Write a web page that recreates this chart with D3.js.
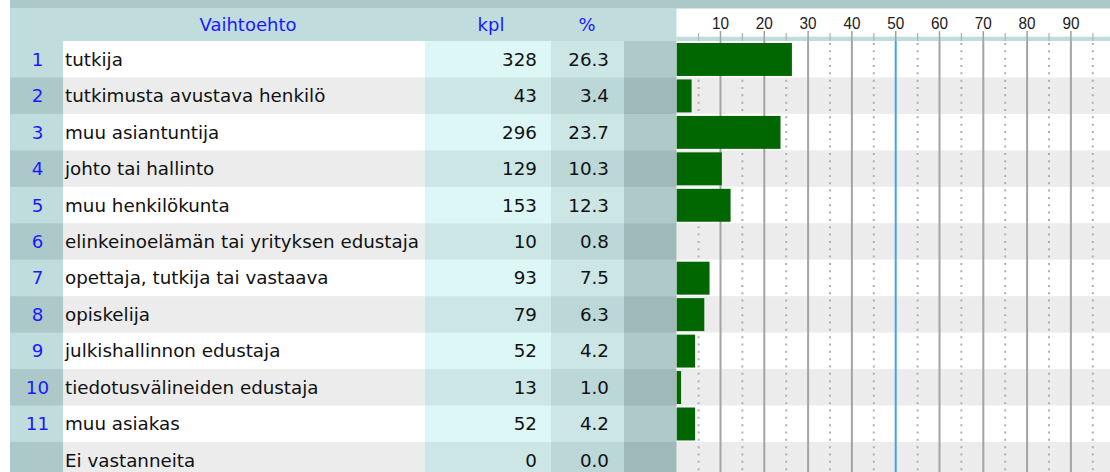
<!DOCTYPE html>
<html>
<head>
<meta charset="utf-8">
<script src="https://cdn.jsdelivr.net/npm/d3@7/dist/d3.min.js"></script>
<style>
  html, body { margin: 0; padding: 0; background: #ffffff; }
  svg { display: block; }
  text { font-family: "DejaVu Sans", Verdana, sans-serif; }
</style>
</head>
<body>
<svg id="chart" width="1110" height="472"></svg>
<script>
// ---- data ----
const rowNumbers = ["1","2","3","4","5","6","7","8","9","10","11",""];
const categories = [
  "tutkija",
  "tutkimusta avustava henkilö",
  "muu asiantuntija",
  "johto tai hallinto",
  "muu henkilökunta",
  "elinkeinoelämän tai yrityksen edustaja",
  "opettaja, tutkija tai vastaava",
  "opiskelija",
  "julkishallinnon edustaja",
  "tiedotusvälineiden edustaja",
  "muu asiakas",
  "Ei vastanneita"
];
const counts   = [328, 43, 296, 129, 153, 10, 93, 79, 52, 13, 52, 0];
const percents = [26.3, 3.4, 23.7, 10.3, 12.3, 0.8, 7.5, 6.3, 4.2, 1.0, 4.2, 0.0];
const headers = ["Vaihtoehto", "kpl", "%"];
const majorTicks = [10, 20, 30, 40, 50, 60, 70, 80, 90];
const minorTicks = [5, 15, 25, 35, 45, 55, 65, 75, 85, 95];
const highlightTick = 50;

// ---- layout ----
const svg = d3.select("#chart");
const W = 1110, H = 472;
const topBand = 8.7, headerBottom = 41, rowH = 36.45;
const col = { num: [10, 63], label: [63, 425], kpl: [425, 551], pct: [551, 624], empty: [624, 676.7] };

const rows = d3.range(categories.length);
const y = d3.scaleBand().domain(rows).range([headerBottom, headerBottom + rowH * rows.length]).paddingInner(0).paddingOuter(0);
const x = d3.scaleLinear().domain([0, 100]).range([676.7, 676.7 + 438]);

const odd = i => i % 2 === 0;
const colors = {
  num:   ["#c0dcdc", "#adc8c8"],
  label: ["#ffffff", "#ececec"],
  kpl:   ["#ddf6f6", "#cce6e6"],
  pct:   ["#cce6e6", "#bcd7d7"],
  empty: ["#afc8c8", "#9fb8b8"],
  chart: ["#ffffff", "#ececec"]
};

// top band
svg.append("rect").attr("x", 10).attr("y", 0).attr("width", W - 10).attr("height", topBand).attr("fill", "#adc8c8");
// table header
svg.append("rect").attr("x", 10).attr("y", topBand).attr("width", col.empty[1] - 10).attr("height", headerBottom - topBand).attr("fill", "#c0dcdc");
// chart header strip
svg.append("rect").attr("x", col.empty[1]).attr("y", topBand).attr("width", W - col.empty[1]).attr("height", 36.7 - topBand).attr("fill", "#ffffff");
svg.append("rect").attr("x", col.empty[1]).attr("y", 36.7).attr("width", W - col.empty[1]).attr("height", headerBottom - 36.7).attr("fill", "#c0dcdc");

// row cells
const cellKeys = ["num", "label", "kpl", "pct", "empty"];
const rowG = svg.append("g").selectAll("g").data(rows).join("g");
cellKeys.forEach(k => {
  rowG.append("rect")
    .attr("x", col[k][0]).attr("y", i => y(i))
    .attr("width", col[k][1] - col[k][0]).attr("height", y.bandwidth() + 0.5)
    .attr("fill", i => colors[k][odd(i) ? 0 : 1]);
});
rowG.append("rect")
  .attr("x", col.empty[1]).attr("y", i => y(i))
  .attr("width", W - col.empty[1]).attr("height", y.bandwidth() + 0.5)
  .attr("fill", i => colors.chart[odd(i) ? 0 : 1]);

// gridlines
const gridTop = headerBottom, gridBottom = H;
svg.append("g").selectAll("line").data(minorTicks).join("line")
  .attr("x1", d => x(d)).attr("x2", d => x(d))
  .attr("y1", gridTop + 2).attr("y2", gridBottom)
  .attr("stroke", "#b0b0b0").attr("stroke-width", 2).attr("stroke-dasharray", "2,5.33");
svg.append("g").selectAll("line").data(majorTicks).join("line")
  .attr("x1", d => x(d)).attr("x2", d => x(d))
  .attr("y1", gridTop).attr("y2", gridBottom)
  .attr("stroke", d => d === highlightTick ? "#42a4e6" : "#a4a4a4").attr("stroke-width", 2);

// header ticks
svg.append("g").selectAll("line").data(majorTicks).join("line")
  .attr("x1", d => x(d)).attr("x2", d => x(d))
  .attr("y1", 31).attr("y2", 41)
  .attr("stroke", "#a0a0a0").attr("stroke-width", 1.5);
svg.append("g").selectAll("line").data(minorTicks).join("line")
  .attr("x1", d => x(d)).attr("x2", d => x(d))
  .attr("y1", 33).attr("y2", 41)
  .attr("stroke", "#b0b0b0").attr("stroke-width", 1.2);

// tick labels
svg.append("g").selectAll("text").data(majorTicks).join("text")
  .attr("transform", d => `translate(${x(d)},29) scale(0.9,1)`)
  .attr("text-anchor", "middle")
  .style("font-family", "'Liberation Sans', Arial, sans-serif")
  .style("font-size", "17px")
  .attr("fill", "#202020")
  .text(d => d);

// bars (values under 1 % are not drawn in the source)
svg.append("g").selectAll("rect").data(rows.filter(i => percents[i] >= 1)).join("rect")
  .attr("x", x(0)).attr("y", i => y(i) + 2)
  .attr("width", i => x(percents[i]) - x(0))
  .attr("height", y.bandwidth() - 3.5)
  .attr("fill", "#006600");

// header text
const headerY = 31;
const hdr = svg.append("g").attr("fill", "#1a1aff").style("font-size", "18px").attr("text-anchor", "middle");
hdr.append("text").attr("x", 248).attr("y", headerY).text(headers[0]);
hdr.append("text").attr("x", 491).attr("y", headerY).text(headers[1]);
hdr.append("text").attr("x", 587).attr("y", headerY).text(headers[2]);

// row text
const fs = "18.3px";
const base = i => y(i) + y.bandwidth() / 2 + 6.5;
rowG.append("text").attr("x", 37.5).attr("y", base).attr("text-anchor", "middle")
  .attr("fill", "#1a1aff").style("font-size", fs).text(i => rowNumbers[i]);
rowG.append("text").attr("x", 65).attr("y", base)
  .attr("fill", "#111").style("font-size", fs).text(i => categories[i]);
rowG.append("text").attr("x", 537).attr("y", base).attr("text-anchor", "end")
  .attr("fill", "#111").style("font-size", fs).text(i => counts[i]);
rowG.append("text").attr("x", 609).attr("y", base).attr("text-anchor", "end")
  .attr("fill", "#111").style("font-size", fs).text(i => percents[i].toFixed(1));
</script>
</body>
</html>
